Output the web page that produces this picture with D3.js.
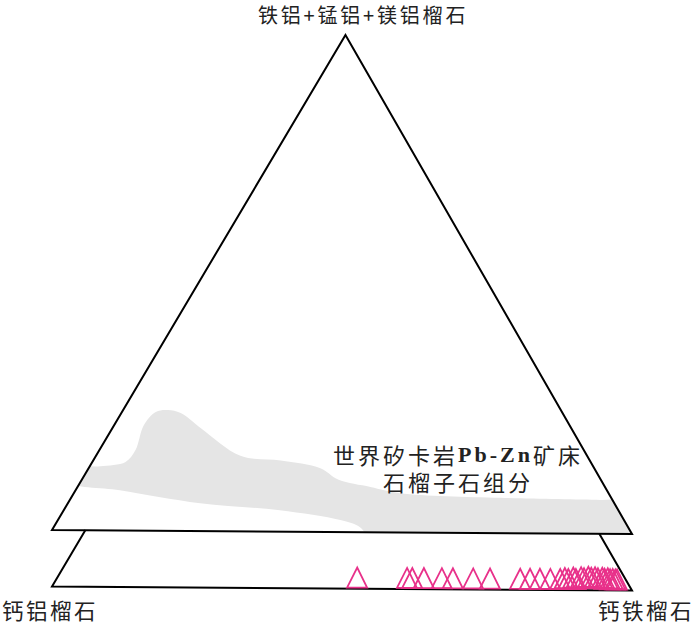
<!DOCTYPE html>
<html>
<head>
<meta charset="utf-8">
<script src="https://cdn.jsdelivr.net/npm/d3@7"></script>
<style>
    body { margin: 0; background: #fff; }
</style>
</head>
<body>
<script>
//ternary values: a = top end-member, c = right end-member, b = 1 - a - c
var apexLabel = "铁铝+锰铝+镁铝榴石",
    leftLabel = "钙铝榴石",
    rightLabel = "钙铁榴石";

//field label, Latin part set apart so it can use a bold serif
var fieldLine1 = [["世界矽卡岩", false], ["Pb-Zn", true], ["矿床", false]],
    fieldLine2 = "石榴子石组分";

//outline of the grey field (world skarn Pb-Zn garnets)
var fieldA = [0.125, 0.129, 0.138, 0.162, 0.212, 0.239, 0.243, 0.237, 0.207, 0.152, 0.143, 0.128,
              0.105, 0.091, 0.079, 0.071, 0.068, 0.066, -0.03, -0.02, 0.010, 0.024, 0.043, 0.056,
              0.081, 0.097];
var fieldC = [-0.02, 0.018, 0.057, 0.062, 0.051, 0.058, 0.077, 0.102, 0.152, 0.248, 0.322, 0.398,
              0.441, 0.503, 0.560, 0.737, 0.911, 0.960, 1.05, 0.565, 0.526, 0.485, 0.371, 0.227,
              0.076, -0.02];

//garnet samples of this deposit (plotted in the enlarged lower strip)
var sampleC = [0.526, 0.612, 0.621, 0.641, 0.672, 0.691, 0.726, 0.755, 0.807, 0.824, 0.841, 0.859,
               0.876, 0.883, 0.890, 0.897, 0.903, 0.910, 0.916, 0.922, 0.928, 0.934, 0.940, 0.947,
               0.952, 0.957, 0.962, 0.966, 0.971, 0.974];
var sampleA = [0, 0, 0, 0, 0, 0, 0, 0, 0, 0, 0, 0,
               0, 0.002, 0, 0.003, 0, 0.004, 0.002, 0.005, 0.003, 0.004, 0.002, 0.003,
               0.001, 0.002, 0, 0.001, 0, 0];

var stripTop = 0.114;

window.onload = drawChart();

function drawChart() {
    var width = 700,
        height = 623;

    var svg = d3.select("body")
        .append("svg")
        .attr("width", width)
        .attr("height", height);

    //horizontal position is c + a/2, vertical is a
    var x = d3.scaleLinear().domain([0, 1]).range([52, 632]);
    var yTop = d3.scaleLinear().domain([0, 1]).range([532, 35]);
    var yStrip = d3.scaleLinear().domain([0, 1]).range([588.5, 91.5]);

    function px(a, c) { return x(c + a / 2); }

    //the scanned figure is tilted a little
    var upper = svg.append("g").attr("transform", "rotate(0.4,342,532)");
    var strip = svg.append("g").attr("transform", "rotate(0.4,342,588.5)");

    var triPts = [[0, 0], [0, 1], [1, 0]];
    var triPath = d3.line()(triPts.map(function (p) { return [px(p[0], p[1]), yTop(p[0])]; })) + "Z";

    upper.append("clipPath")
        .attr("id", "triClip")
        .append("path")
        .attr("d", triPath);

    //grey field
    var fieldPts = fieldA.map(function (a, i) { return [px(a, fieldC[i]), yTop(a)]; });
    upper.append("path")
        .attr("d", d3.line().curve(d3.curveCatmullRomClosed.alpha(0.5))(fieldPts))
        .attr("clip-path", "url(#triClip)")
        .attr("fill", "#e5e5e5")
        .attr("stroke", "none");

    //main triangle
    upper.append("path")
        .attr("d", triPath)
        .attr("fill", "none")
        .attr("stroke", "#000")
        .attr("stroke-width", 2);

    //lower strip (bottom of the triangle)
    var stripPts = [[stripTop, 0], [0, 0], [0, 1], [stripTop, 1 - stripTop]];
    strip.append("path")
        .attr("d", d3.line()(stripPts.map(function (p) { return [px(p[0], p[1]), yStrip(p[0])]; })))
        .attr("fill", "none")
        .attr("stroke", "#000")
        .attr("stroke-width", 2);

    //sample markers: open triangles sitting on the point
    strip.selectAll(".sample")
        .data(sampleC)
        .enter()
        .append("path")
        .attr("class", "sample")
        .attr("transform", function (c, i) {
            return "translate(" + px(sampleA[i], c) + "," + yStrip(sampleA[i]) + ")";
        })
        .attr("d", "M-10,-1L0,-21L10,-1Z")
        .attr("fill", "none")
        .attr("stroke", "#e8318a")
        .attr("stroke-width", 1.8);

    var cjk = "'Noto Sans CJK SC', sans-serif";

    svg.append("text")
        .attr("x", 258)
        .attr("y", 23)
        .attr("font-family", cjk)
        .attr("font-size", 20)
        .attr("letter-spacing", 2.8)
        .attr("fill", "#222")
        .text(apexLabel);

    svg.append("text")
        .attr("x", 2)
        .attr("y", 609)
        .attr("dominant-baseline", "central")
        .attr("font-family", cjk)
        .attr("font-size", 21.5)
        .attr("letter-spacing", 2.5)
        .attr("fill", "#222")
        .text(leftLabel);

    svg.append("text")
        .attr("x", 598)
        .attr("y", 609)
        .attr("dominant-baseline", "central")
        .attr("font-family", cjk)
        .attr("font-size", 21.5)
        .attr("letter-spacing", 2.5)
        .attr("fill", "#222")
        .text(rightLabel);

    var t1 = svg.append("text")
        .attr("x", 458)
        .attr("y", 454)
        .attr("text-anchor", "middle")
        .attr("dominant-baseline", "central")
        .attr("font-size", 22)
        .attr("letter-spacing", 3)
        .attr("fill", "#222");
    t1.selectAll("tspan")
        .data(fieldLine1)
        .enter()
        .append("tspan")
        .attr("font-family", function (d) { return d[1] ? "'Liberation Serif', serif" : cjk; })
        .attr("font-weight", function (d) { return d[1] ? "bold" : "normal"; })
        .text(function (d) { return d[0]; });

    svg.append("text")
        .attr("x", 458)
        .attr("y", 481)
        .attr("text-anchor", "middle")
        .attr("dominant-baseline", "central")
        .attr("font-family", cjk)
        .attr("font-size", 22)
        .attr("letter-spacing", 3)
        .attr("fill", "#222")
        .text(fieldLine2);
}
</script>
</body>
</html>
